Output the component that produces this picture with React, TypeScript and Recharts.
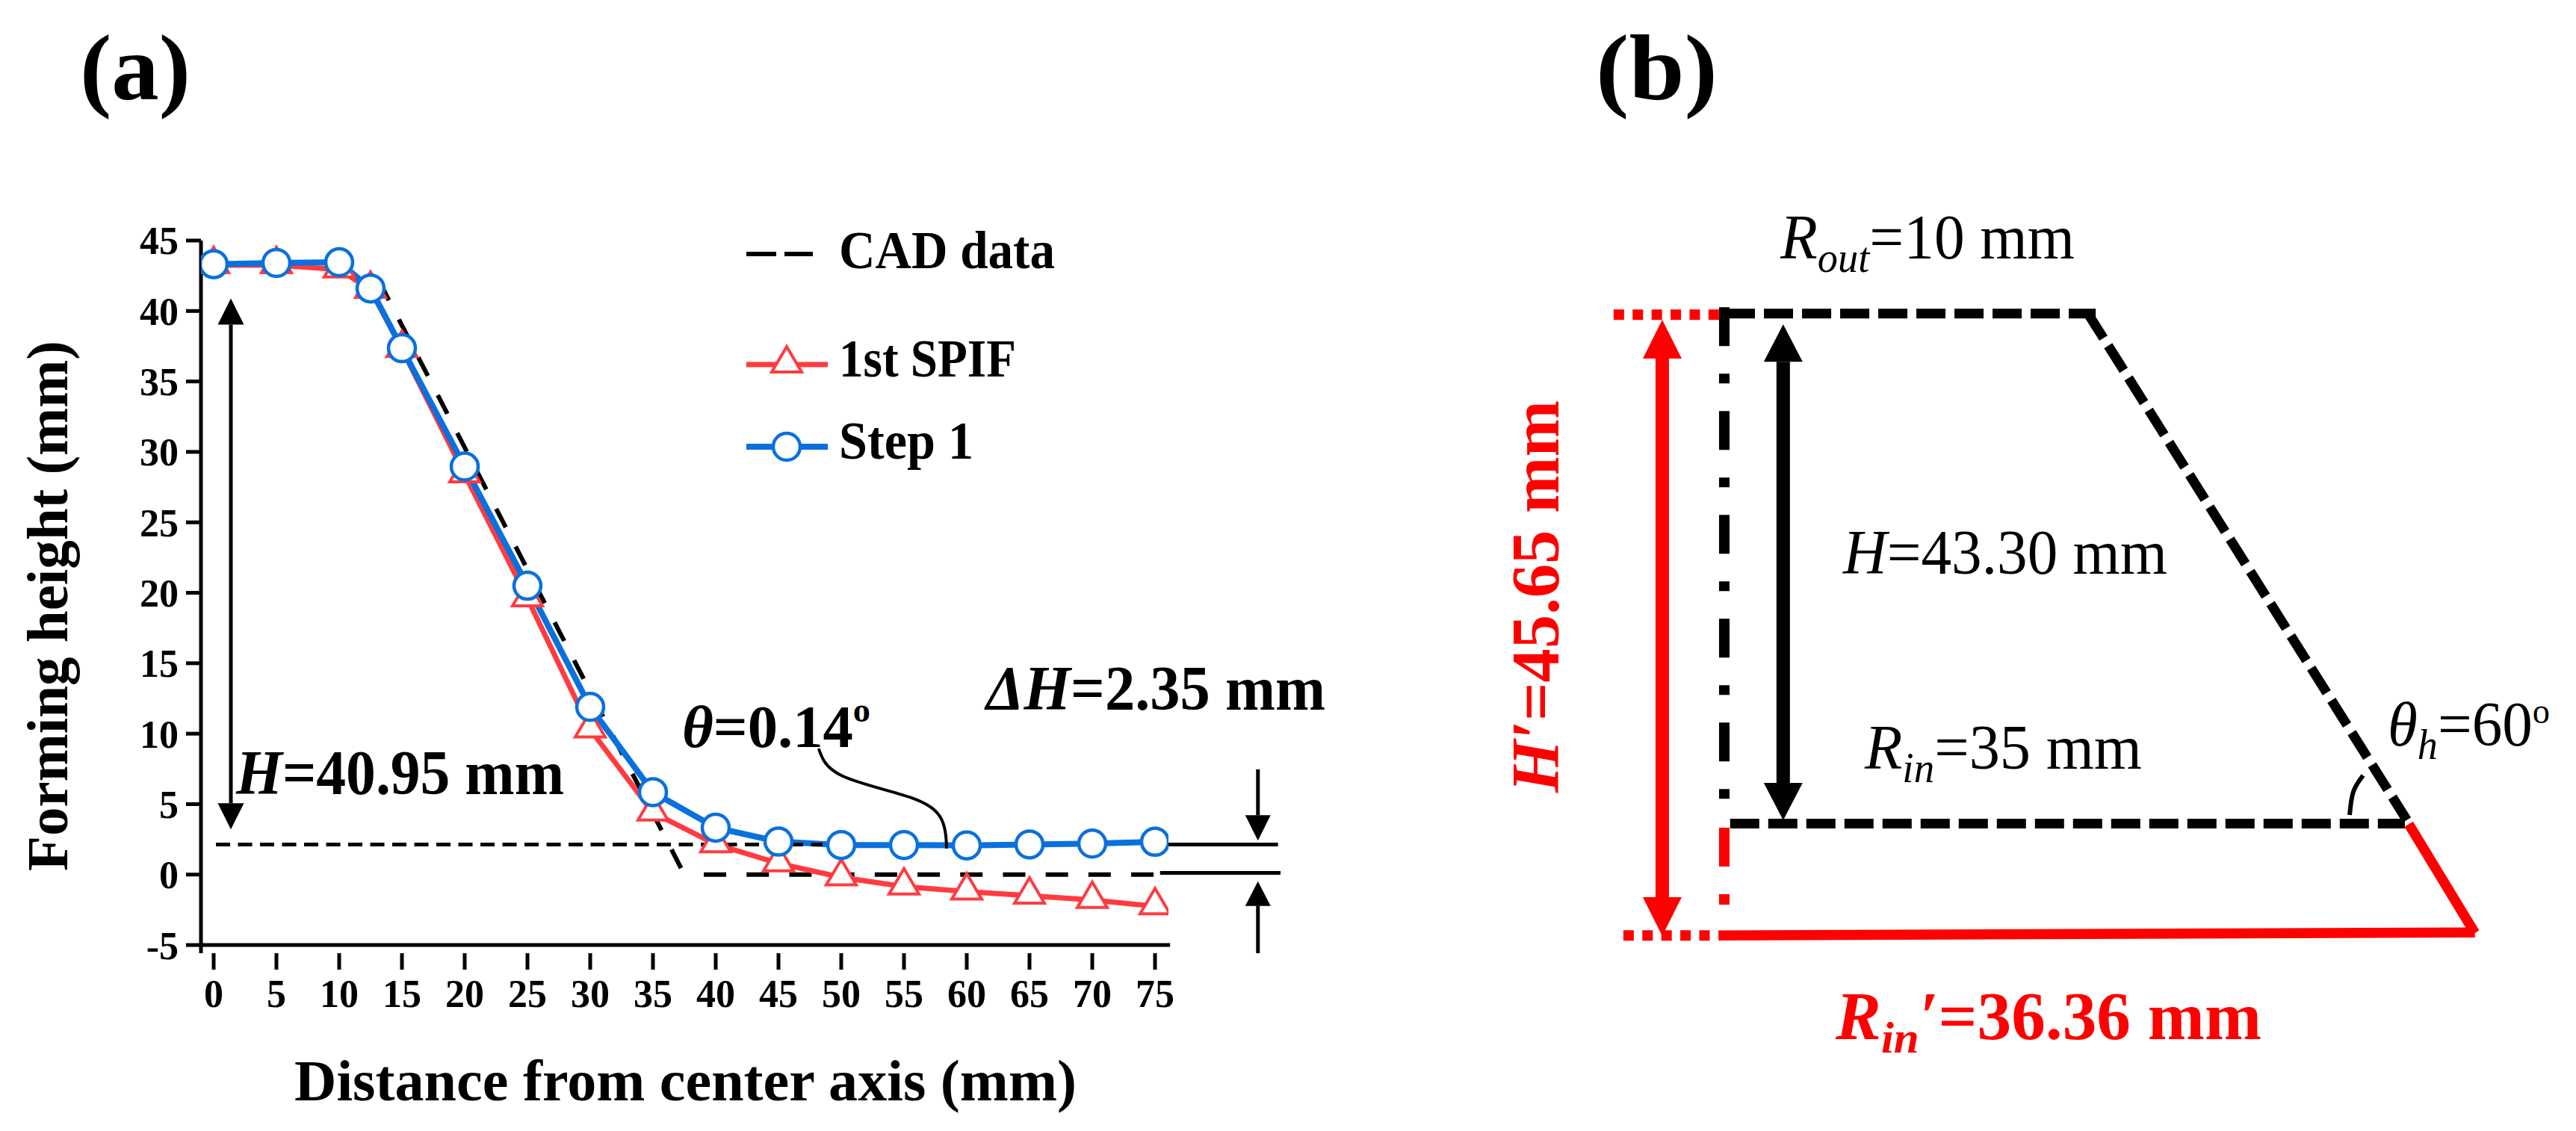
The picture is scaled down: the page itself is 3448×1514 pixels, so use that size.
import { LineChart, Line, XAxis, YAxis, ReferenceLine } from 'recharts';

const FONT = '"Liberation Serif", "Times New Roman", serif';
const BLUE = '#0A70DE';
const SOFT_RED = '#FF3B40';
const RED = '#FF0000';

// (a) forming profile
const distance = [0, 5, 10, 12.5, 15, 20, 25, 30, 35, 40, 45, 50, 55, 60, 65, 70, 75];
const spifHeight = [43.25, 43.25, 42.95, 41.5, 37.3, 28.4, 19.6, 10.3, 4.4, 2.15, 0.8, -0.2, -0.85, -1.2, -1.5, -1.8, -2.25];
const step1Height = [43.32, 43.41, 43.46, 41.6, 37.36, 28.96, 20.5, 11.9, 5.85, 3.33, 2.34, 2.1, 2.1, 2.07, 2.14, 2.2, 2.33];
const cadSlopeX = [13.2, 37.5];
const cadSlopeY = [42.09, 0];
const cadFlatX = [39.05, 75];
const cadFlatY = [0, 0];
const xTicks = [0, 5, 10, 15, 20, 25, 30, 35, 40, 45, 50, 55, 60, 65, 70, 75];
const yTicks = [-5, 0, 5, 10, 15, 20, 25, 30, 35, 40, 45];
const leaderX = [48.2, 50.1, 55.5, 58, 58.4];
const leaderY = [8.94, 7.0, 5.48, 3.9, 1.85];

// (b) schematic section, x and y in drawing units
const topX = [0.08, 19.1];
const topY = [43.3, 43.3];
const slopeX = [18.7, 35.1];
const slopeY = [43.3, 0.3];
const baseX = [0.3, 35];
const baseY = [0, 0];
const axisBlackX = [0, 0];
const axisBlackY = [43.84, 0.3];
const axisRedX = [0, 0];
const axisRedY = [-0.35, -9.3];
const redBottomX = [-0.3, 38.6];
const redBottomY = [-9.5, -9.25];
const redSideX = [35.2, 38.6];
const redSideY = [-0.05, -9.3];
const arcX = [32.16, 32.35, 32.85];
const arcY = [0.73, 2.7, 4.09];

const rows = (xs: number[], ys: number[]) => xs.map((x, i) => ({ x, y: ys[i] }));

const TriangleDot = (props: any) => {
  const { cx, cy, index } = props;
  return (
    <g key={index} clipPath="url(#plotClipA)">
      <polygon
        points={`${cx},${cy - 24} ${cx + 20},${cy + 10} ${cx - 20},${cy + 10}`}
        fill="#fff"
        stroke={SOFT_RED}
        strokeWidth={4}
      />
    </g>
  );
};

const CircleDot = (props: any) => {
  const { cx, cy, index } = props;
  return (
    <g key={index} clipPath="url(#plotClipA)">
      <circle cx={cx} cy={cy} r={18} fill="#fff" stroke={BLUE} strokeWidth={4.5} />
    </g>
  );
};

// arrow head sitting on the end of a two point shaft
const arrowHeads = (halfWidth: number, length: number, color: string, ends: ('up' | 'down' | null)[]) => (props: any) => {
  const { cx, cy, index } = props;
  const dir = ends[index];
  if (!dir) return <g key={index} />;
  const tip = dir === 'up' ? cy - length : cy + length;
  return <polygon key={index} points={`${cx - halfWidth},${cy} ${cx + halfWidth},${cy} ${cx},${tip}`} fill={color} />;
};

const Label = ({ x, y, w, size, bold, fill, rotate, children }: any) => (
  <text
    x={x}
    y={y}
    fontFamily={FONT}
    fontSize={size}
    fontWeight={bold ? 700 : 400}
    fill={fill || '#000'}
    textLength={w}
    lengthAdjust="spacingAndGlyphs"
    transform={rotate ? `rotate(-90 ${x} ${y})` : undefined}
  >
    {children}
  </text>
);

const PanelA = () => (
  <LineChart width={1800} height={1514} margin={{ top: 322, right: 0, bottom: 98, left: 199 }}>
    <defs>
      <clipPath id="plotClipA">
        <rect x={269} y={300} width={1295} height={1000} />
      </clipPath>
    </defs>
    <XAxis
      type="number"
      dataKey="x"
      domain={[-1.012, 90.119]}
      ticks={xTicks}
      interval={0}
      height={140}
      axisLine={false}
      tickSize={22}
      tickMargin={13}
      tickLine={{ stroke: '#000', strokeWidth: 5 }}
      tick={{ fontFamily: FONT, fontSize: 52, fontWeight: 700, fill: '#000' }}
    />
    <YAxis
      type="number"
      dataKey="y"
      domain={[-5, 45]}
      ticks={yTicks}
      interval={0}
      width={70}
      tickSize={20}
      tickMargin={10}
      axisLine={{ stroke: '#000', strokeWidth: 5 }}
      tickLine={{ stroke: '#000', strokeWidth: 5 }}
      tick={{ fontFamily: FONT, fontSize: 52, fontWeight: 700, fill: '#000' }}
    />
    <ReferenceLine segment={[{ x: -1.012, y: -5 }, { x: 76.2, y: -5 }]} stroke="#000" strokeWidth={5} />

    <Line data={rows(cadSlopeX, cadSlopeY)} dataKey="y" stroke="#000" strokeWidth={6} strokeDasharray="28 29" dot={false} isAnimationActive={false} />
    <Line data={rows(cadFlatX, cadFlatY)} dataKey="y" stroke="#000" strokeWidth={6} strokeDasharray="30 27.2" dot={false} isAnimationActive={false} />
    <Line data={rows(distance, spifHeight)} dataKey="y" stroke={SOFT_RED} strokeWidth={7} dot={TriangleDot} isAnimationActive={false} />
    <Line data={rows(distance, step1Height)} dataKey="y" stroke={BLUE} strokeWidth={8} dot={CircleDot} isAnimationActive={false} />

    {/* reference level and the right hand gap marks */}
    <Line data={rows([0.18, 48.5], [2.13, 2.13])} dataKey="y" stroke="#000" strokeWidth={5} strokeDasharray="19 10.5" dot={false} isAnimationActive={false} />
    <Line data={rows([75.2, 84.8], [2.13, 2.13])} dataKey="y" stroke="#000" strokeWidth={5} dot={false} isAnimationActive={false} />
    <Line data={rows([75.4, 85], [0.12, 0.12])} dataKey="y" stroke="#000" strokeWidth={5} dot={false} isAnimationActive={false} />
    <Line data={rows([1.37, 1.37], [39.03, 5.06])} dataKey="y" stroke="#000" strokeWidth={5} dot={arrowHeads(17.5, 35, '#000', ['up', 'down'])} isAnimationActive={false} />
    <Line data={rows([83.2, 83.2], [7.47, 4.22])} dataKey="y" stroke="#000" strokeWidth={5} dot={arrowHeads(17, 34, '#000', [null, 'down'])} isAnimationActive={false} />
    <Line data={rows([83.2, 83.2], [-2.22, -5.58])} dataKey="y" stroke="#000" strokeWidth={5} dot={arrowHeads(17, 33, '#000', ['up', null])} isAnimationActive={false} />
    <Line data={rows(leaderX, leaderY)} dataKey="y" type="natural" stroke="#000" strokeWidth={4} dot={false} isAnimationActive={false} />

    {/* legend */}
    <line x1={999} x2={1039} y1={340} y2={340} stroke="#000" strokeWidth={6} />
    <line x1={1050} x2={1088} y1={340} y2={340} stroke="#000" strokeWidth={6} />
    <line x1={999} x2={1108} y1={488} y2={488} stroke={SOFT_RED} strokeWidth={7} />
    <polygon points="1053,464 1073,498 1033,498" fill="#fff" stroke={SOFT_RED} strokeWidth={4} />
    <line x1={999} x2={1108} y1={598} y2={598} stroke={BLUE} strokeWidth={8} />
    <circle cx={1053} cy={598} r={18} fill="#fff" stroke={BLUE} strokeWidth={4.5} />
    <Label x={1123} y={359} w={289} size={72} bold>CAD data</Label>
    <Label x={1123} y={504} w={237} size={72} bold>1st SPIF</Label>
    <Label x={1123} y={614} w={180} size={72} bold>Step 1</Label>

    {/* annotations */}
    <Label x={107} y={133} w={148} size={124} bold>(a)</Label>
    <Label x={394} y={1473} w={1047} size={78} bold>Distance from center axis (mm)</Label>
    <Label x={90} y={1166} w={710} size={78} bold rotate>Forming height (mm)</Label>
    <Label x={316} y={1063} w={439} size={84} bold>
      <tspan fontStyle="italic">H</tspan>=40.95 mm
    </Label>
    <Label x={913} y={1000} w={252} size={80} bold>
      <tspan fontStyle="italic">θ</tspan>=0.14<tspan fontSize={46} dy={-34}>o</tspan>
    </Label>
    <Label x={1320} y={950} w={454} size={84} bold>
      <tspan fontStyle="italic">ΔH</tspan>=2.35 mm
    </Label>
  </LineChart>
);

const PanelB = () => (
  <LineChart width={1648} height={1514} margin={{ top: 100, right: 0, bottom: 14, left: 200 }}>
    <XAxis hide type="number" dataKey="x" domain={[-11.832, 43.8]} />
    <YAxis hide type="number" dataKey="y" domain={[-25.21, 63.57]} />

    <Line data={rows([-5.69, -0.27], [43.2, 43.2])} dataKey="y" stroke={RED} strokeWidth={14} strokeDasharray="14 11.4" dot={false} isAnimationActive={false} />
    <Line data={rows([-5.19, -0.73], [-9.5, -9.5])} dataKey="y" stroke={RED} strokeWidth={14} strokeDasharray="14 11.4" dot={false} isAnimationActive={false} />
    <Line data={rows(axisBlackX, axisBlackY)} dataKey="y" stroke="#000" strokeWidth={14} strokeDasharray="52 37 13 37" dot={false} isAnimationActive={false} />
    <Line data={rows(axisRedX, axisRedY)} dataKey="y" stroke={RED} strokeWidth={14} strokeDasharray="52 37 14 37" dot={false} isAnimationActive={false} />
    <Line data={rows(topX, topY)} dataKey="y" stroke="#000" strokeWidth={13} strokeDasharray="39 12" dot={false} isAnimationActive={false} />
    <Line data={rows(slopeX, slopeY)} dataKey="y" stroke="#000" strokeWidth={13} strokeDasharray="39 12" dot={false} isAnimationActive={false} />
    <Line data={rows(baseX, baseY)} dataKey="y" stroke="#000" strokeWidth={13} strokeDasharray="39 12" dot={false} isAnimationActive={false} />
    <Line data={rows(redBottomX, redBottomY)} dataKey="y" stroke={RED} strokeWidth={13.5} dot={false} isAnimationActive={false} />
    <Line data={rows(redSideX, redSideY)} dataKey="y" stroke={RED} strokeWidth={13.5} dot={false} isAnimationActive={false} />
    <Line data={rows([-3.19, -3.19], [39.47, -6.25])} dataKey="y" stroke={RED} strokeWidth={18} dot={arrowHeads(26, 52, RED, ['up', 'down'])} isAnimationActive={false} />
    <Line data={rows([3.03, 3.03], [39.2, 3.46])} dataKey="y" stroke="#000" strokeWidth={18} dot={arrowHeads(26, 50, '#000', ['up', 'down'])} isAnimationActive={false} />
    <Line data={rows(arcX, arcY)} dataKey="y" type="natural" stroke="#000" strokeWidth={6} dot={false} isAnimationActive={false} />

    <Label x={336} y={133} w={163} size={124} bold>(b)</Label>
    <Label x={583} y={346} w={394} size={84}>
      <tspan fontStyle="italic">R</tspan><tspan fontStyle="italic" fontSize={56} dy={18}>out</tspan><tspan dy={-18}>=10 mm</tspan>
    </Label>
    <Label x={667} y={768} w={434} size={84}>
      <tspan fontStyle="italic">H</tspan>=43.30 mm
    </Label>
    <Label x={696} y={1029} w={371} size={84}>
      <tspan fontStyle="italic">R</tspan><tspan fontStyle="italic" fontSize={56} dy={18}>in</tspan><tspan dy={-18}>=35 mm</tspan>
    </Label>
    <Label x={1396} y={998} w={217} size={84}>
      <tspan fontStyle="italic">θ</tspan><tspan fontStyle="italic" fontSize={56} dy={18}>h</tspan><tspan dy={-18}>=60</tspan><tspan fontSize={48} dy={-30}>o</tspan>
    </Label>
    <Label x={657} y={1391} w={570} size={90} bold fill={RED}>
      <tspan fontStyle="italic">R</tspan><tspan fontStyle="italic" fontSize={60} dy={18}>in</tspan><tspan fontStyle="italic" dy={-18}>′</tspan>=36.36 mm
    </Label>
    <Label x={286} y={1061} w={525} size={90} bold fill={RED} rotate>
      <tspan fontStyle="italic">H′</tspan>=45.65 mm
    </Label>
  </LineChart>
);

export default function App() {
  return (
    <div style={{ position: 'absolute', left: 0, top: 0, width: 3448, height: 1514, background: '#fff' }}>
      <div style={{ position: 'absolute', left: 0, top: 0 }}>
        <PanelA />
      </div>
      <div style={{ position: 'absolute', left: 1800, top: 0 }}>
        <PanelB />
      </div>
    </div>
  );
}
